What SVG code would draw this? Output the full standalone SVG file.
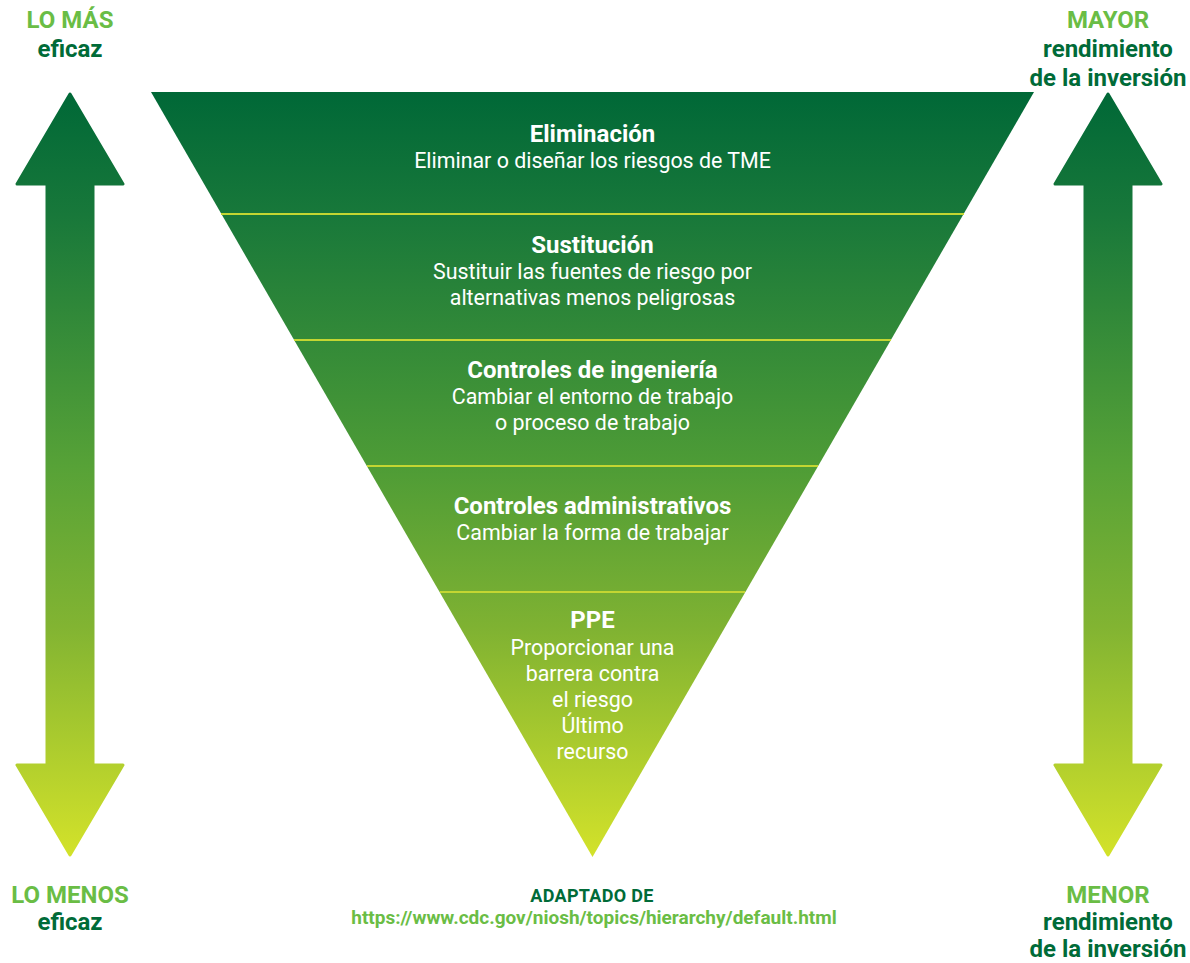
<svg xmlns="http://www.w3.org/2000/svg" width="1190" height="963" viewBox="0 0 1190 963">
<defs>
<linearGradient id="gTri" gradientUnits="userSpaceOnUse" x1="0" y1="92" x2="0" y2="857">
<stop offset="0" stop-color="#006837"/>
<stop offset="0.16" stop-color="#18783a"/>
<stop offset="0.49" stop-color="#4e9c36"/>
<stop offset="0.7" stop-color="#7fb232"/>
<stop offset="1" stop-color="#d3e22a"/>
</linearGradient>
<linearGradient id="gArr" gradientUnits="userSpaceOnUse" x1="0" y1="93" x2="0" y2="856">
<stop offset="0" stop-color="#006837"/>
<stop offset="0.16" stop-color="#18783a"/>
<stop offset="0.49" stop-color="#57a237"/>
<stop offset="0.7" stop-color="#82b432"/>
<stop offset="1" stop-color="#d3e22a"/>
</linearGradient>
</defs>
<style>
.lbl{font-family:Roboto,"Liberation Sans",sans-serif;font-weight:700;text-anchor:middle}
.lt{fill:#6abd45;font-size:24px}
.dk{fill:#006b38;font-size:24px}
.h{font-family:Roboto,"Liberation Sans",sans-serif;font-weight:700;font-size:24px;fill:#fff;text-anchor:middle}
.t{font-family:Roboto,"Liberation Sans",sans-serif;font-weight:400;font-size:21.4px;fill:#fff;text-anchor:middle}
.div{stroke:#c3d632;stroke-width:2;fill:none}
.arr{fill:url(#gArr);stroke:url(#gArr);stroke-width:3;stroke-linejoin:round}
</style>
<g id="arrow-left">
<path class="arr" d="M70 94 L123 184 L93 184 L93 765 L123 765 L70 855 L17 765 L47 765 L47 184 L17 184 Z"/>
</g>
<g id="arrow-right">
<path class="arr" d="M1108 94 L1161 184 L1131 184 L1131 765 L1161 765 L1108 855 L1055 765 L1085 765 L1085 184 L1055 184 Z"/>
</g>
<g id="pyramid">
<polygon points="151,92 1034,92 592.5,857" fill="url(#gTri)"/>
</g>
<g id="connectors">
<line class="div" x1="221" y1="214" x2="964" y2="214"/>
<line class="div" x1="294" y1="340" x2="891" y2="340"/>
<line class="div" x1="367" y1="466" x2="818" y2="466"/>
<line class="div" x1="440" y1="592" x2="745" y2="592"/>
</g>
<g id="level-eliminacion">
<text class="h" x="592.5" y="142">Eliminación</text>
<text class="t" x="592.5" y="168">Eliminar o diseñar los riesgos de TME</text>
</g>
<g id="level-sustitucion">
<text class="h" x="592.5" y="253">Sustitución</text>
<text class="t" x="592.5" y="279">Sustituir las fuentes de riesgo por</text>
<text class="t" x="592.5" y="305">alternativas menos peligrosas</text>
</g>
<g id="level-ingenieria">
<text class="h" x="592.5" y="378">Controles de ingeniería</text>
<text class="t" x="592.5" y="404">Cambiar el entorno de trabajo</text>
<text class="t" x="592.5" y="430">o proceso de trabajo</text>
</g>
<g id="level-administrativos">
<text class="h" x="592.5" y="514">Controles administrativos</text>
<text class="t" x="592.5" y="540">Cambiar la forma de trabajar</text>
</g>
<g id="level-ppe">
<text class="h" x="592.5" y="628">PPE</text>
<text class="t" x="592.5" y="655">Proporcionar una</text>
<text class="t" x="592.5" y="681">barrera contra</text>
<text class="t" x="592.5" y="707">el riesgo</text>
<text class="t" x="592.5" y="733">Último</text>
<text class="t" x="592.5" y="759">recurso</text>
</g>
<g id="label-top-left">
<text class="lbl lt" x="70" y="28">LO MÁS</text>
<text class="lbl dk" x="70" y="57">eficaz</text>
</g>
<g id="label-top-right">
<text class="lbl lt" x="1108" y="28">MAYOR</text>
<text class="lbl dk" x="1108" y="57">rendimiento</text>
<text class="lbl dk" x="1108" y="86">de la inversión</text>
</g>
<g id="label-bottom-left">
<text class="lbl lt" x="70" y="903">LO MENOS</text>
<text class="lbl dk" x="70" y="930">eficaz</text>
</g>
<g id="label-bottom-right">
<text class="lbl lt" x="1108" y="903">MENOR</text>
<text class="lbl dk" x="1108" y="930">rendimiento</text>
<text class="lbl dk" x="1108" y="957">de la inversión</text>
</g>
<g id="source">
<text class="lbl" x="592" y="902" style="fill:#006b38;font-size:18px;letter-spacing:0.3px">ADAPTADO DE</text>
<text class="lbl" x="594" y="924" style="fill:#6abd45;font-size:19px">https://www.cdc.gov/niosh/topics/hierarchy/default.html</text>
</g>
</svg>
